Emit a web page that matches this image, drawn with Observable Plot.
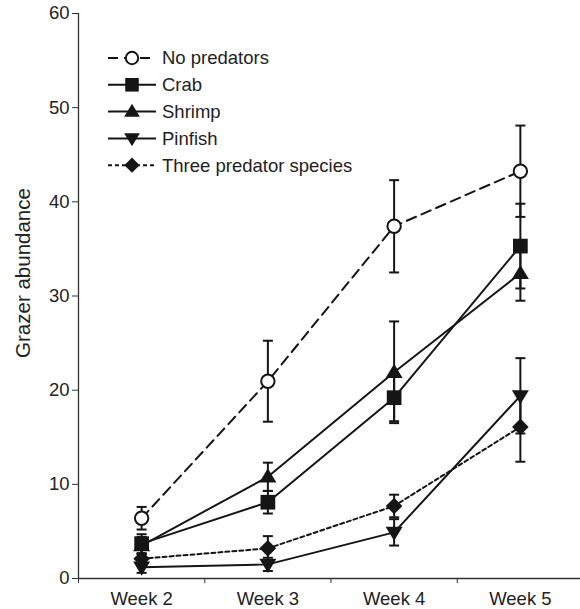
<!DOCTYPE html>
<html><head><meta charset="utf-8">
<script src="https://cdn.jsdelivr.net/npm/d3@7"></script>
<script src="https://cdn.jsdelivr.net/npm/@observablehq/plot@0.6"></script>
<style>
body{margin:0;background:#fff;}
#chart{position:relative;width:580px;height:609px;}
#chart svg.legend{position:absolute;left:0;top:0;}
</style>
</head><body><div id="chart"></div>
<script>
// ---- data ----
const weeks = ["Week 2", "Week 3", "Week 4", "Week 5"];
const weekNums = [2, 3, 4, 5];
const seriesNames = ["No predators", "Crab", "Shrimp", "Pinfish", "Three predator species"];
const noPredators   = [6.4, 20.95, 37.4, 43.25];
const noPredatorsSE = [1.2, 4.3, 4.9, 4.85];
const crab          = [3.7, 8.1, 19.2, 35.3];
const crabSE        = [1.0, 1.2, 2.5, 4.5];
const shrimp        = [3.5, 10.8, 21.9, 32.4];
const shrimpSE      = [0.9, 1.5, 5.4, 2.9];
const pinfish       = [1.2, 1.5, 4.9, 19.4];
const pinfishSE     = [0.6, 0.7, 1.4, 4.0];
const three         = [2.1, 3.2, 7.7, 16.1];
const threeSE       = [0.5, 1.3, 1.2, 3.7];
const yTicks = [0, 10, 20, 30, 40, 50, 60];
const yLabel = "Grazer abundance";

// ---- symbols ----
const triUp = {draw(ctx, size){const s=Math.sqrt(size), w=0.6*s, h=s; ctx.moveTo(0,-0.6*h); ctx.lineTo(w,0.4*h); ctx.lineTo(-w,0.4*h); ctx.closePath();}};
const triDown = {draw(ctx, size){const s=Math.sqrt(size), w=0.6*s, h=s; ctx.moveTo(0,0.6*h); ctx.lineTo(w,-0.4*h); ctx.lineTo(-w,-0.4*h); ctx.closePath();}};
const diamond = {draw(ctx, size){const d=0.6*Math.sqrt(size); ctx.moveTo(0,-d); ctx.lineTo(d,0); ctx.lineTo(0,d); ctx.lineTo(-d,0); ctx.closePath();}};
const cap = {draw(ctx){ctx.moveTo(-5,0); ctx.lineTo(5,0);}};

const ink = "#151515";
const defs = [
  {name: seriesNames[0], v: noPredators, se: noPredatorsSE, symbol: d3.symbolCircle, fill: "white", dash: "10,6", r: 6.7, sw: 2},
  {name: seriesNames[1], v: crab, se: crabSE, symbol: d3.symbolSquare, fill: ink, dash: null, r: 8.3, sw: 0},
  {name: seriesNames[2], v: shrimp, se: shrimpSE, symbol: triUp, fill: ink, dash: null, r: 8, sw: 0},
  {name: seriesNames[3], v: pinfish, se: pinfishSE, symbol: triDown, fill: ink, dash: null, r: 8, sw: 0},
  {name: seriesNames[4], v: three, se: threeSE, symbol: diamond, fill: ink, dash: "4,3", r: 7.8, sw: 0}
];
const rows = defs.flatMap(d => weekNums.map((w, i) => ({series: d.name, week: w, value: d.v[i], se: d.se[i]})));

const font = "Arial, 'Liberation Sans', Helvetica, sans-serif";

const marks = [
  Plot.ruleY([yTicks[0]], {stroke: "#333", strokeWidth: 1.3}),
  Plot.ruleX([weekNums[0] - 0.5], {stroke: "#333", strokeWidth: 1.3}),
  Plot.axisY({ticks: yTicks, tickSize: 6, tickPadding: 3, label: null, stroke: "#333"}),
  Plot.axisX(weekNums.map(w => w - 0.5), {tickSize: 5, tickFormat: () => "", label: null, stroke: "#333"}),
  Plot.axisX(weekNums, {tickSize: 0, tickPadding: 13, tickFormat: d => weeks[weekNums.indexOf(d)], label: null}),
  Plot.text([yLabel], {frameAnchor: "left", rotate: -90, dx: -55, dy: -23, textAnchor: "middle", lineAnchor: "middle", fontSize: 20.5, fill: "#222"}),
  Plot.ruleX(rows, {x: "week", y1: d => d.value - d.se, y2: d => d.value + d.se, stroke: ink, strokeWidth: 2}),
  Plot.dot(rows, {x: "week", y: d => d.value + d.se, symbol: cap, r: 5, stroke: ink, strokeWidth: 2, fill: "none"}),
  Plot.dot(rows, {x: "week", y: d => d.value - d.se, symbol: cap, r: 5, stroke: ink, strokeWidth: 2, fill: "none"})
];
for (const d of defs) {
  marks.push(Plot.line(rows.filter(r => r.series === d.name), {x: "week", y: "value", stroke: ink, strokeWidth: 2, strokeDasharray: d.dash}));
}
for (const d of defs) {
  marks.push(Plot.dot(rows.filter(r => r.series === d.name), {x: "week", y: "value", symbol: d.symbol, r: d.r, fill: d.fill, stroke: d.sw ? ink : "none", strokeWidth: d.sw, fillOpacity: 1}));
}

const chart = Plot.plot({
  width: 580, height: 609,
  marginLeft: 78, marginRight: -3, marginTop: 13, marginBottom: 31,
  style: {fontSize: "18.5px", fontFamily: font, color: "#222", background: "white"},
  x: {type: "linear", domain: [weekNums[0] - 0.5, weekNums[weekNums.length - 1] + 0.5]},
  y: {domain: [yTicks[0], yTicks[yTicks.length - 1]]},
  marks
});
const host = document.getElementById("chart");
host.appendChild(chart);

// ---- legend ----
const lg = d3.create("svg").attr("class", "legend").attr("width", 400).attr("height", 190)
  .style("font-family", font).style("font-size", "18.5px");
defs.forEach((d, i) => {
  const y = 58 + i * 26.8;
  const g = lg.append("g").attr("transform", `translate(0,${y})`);
  g.append("line").attr("x1", 108).attr("x2", 156).attr("y1", 0).attr("y2", 0)
    .attr("stroke", ink).attr("stroke-width", 2).attr("stroke-dasharray", d.dash);
  g.append("path").attr("transform", "translate(132,0)")
    .attr("d", d3.symbol(d.symbol, Math.PI * d.r * d.r * 0.85)())
    .attr("fill", d.fill).attr("stroke", d.sw ? ink : "none").attr("stroke-width", d.sw);
  g.append("text").attr("x", 162).attr("y", 0).attr("dy", "0.35em").attr("fill", "#222").text(d.name);
});
host.appendChild(lg.node());
</script>
</body></html>
